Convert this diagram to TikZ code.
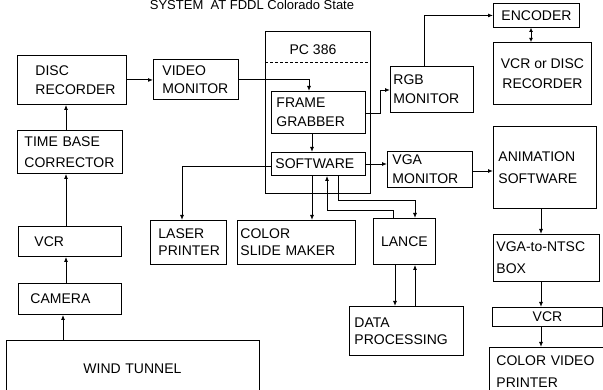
\documentclass[tikz,border=0pt]{standalone}
\usepackage{fontspec}
\setmainfont{Liberation Sans}
\usetikzlibrary{arrows.meta}
\begin{document}
\begin{tikzpicture}[x=1pt,y=-1pt,
  blk/.style={draw, line width=0.9pt, anchor=north west, align=left, inner ysep=0pt, font=\fontsize{14}{19}\selectfont},
  ctr/.style={blk, align=center},
  arr/.style={line width=0.9pt, -{Latex[length=5pt,width=4pt]}},
  ln/.style={line width=0.9pt}]
\useasboundingbox (0,0) rectangle (603,390);

% title
\node[font=\fontsize{13}{15}\selectfont, anchor=base] (title) at (252,10) {SYSTEM\ \ AT FDDL Colorado State};

% left column
\node[blk, minimum width=109, minimum height=49, text width=73, inner xsep=18] (disc) at (17,55) {DISC\\RECORDER};
\node[blk, minimum width=85, minimum height=40, text width=67, inner xsep=9, font=\fontsize{14}{18}\selectfont] (vmon) at (153,59) {VIDEO\\MONITOR};
\node[blk, minimum width=105, minimum height=43, text width=91, inner xsep=7, font=\fontsize{14}{21}\selectfont] (tbc) at (17,130) {TIME BASE\\CORRECTOR};
\node[blk, minimum width=103, minimum height=30, text width=71, inner xsep=16] (vcrL) at (18,226) {VCR};
\node[blk, minimum width=103, minimum height=31, text width=79, inner xsep=12] (cam) at (18,283) {CAMERA};
\node[blk, minimum width=253, minimum height=56, text width=99, inner xsep=77] (wind) at (6,340) {WIND TUNNEL};

% PC 386
\node[blk, minimum width=105, minimum height=162] (pc) at (265,31) {};
\node[font=\fontsize{14}{19}\selectfont] (pclabel) at (313,50) {PC 386};
\draw[ln, dash pattern=on 3pt off 2pt] (pc.west |- 0,62) -- (pc.east |- 0,62);
\node[blk, minimum width=94, minimum height=42, text width=84, inner xsep=5] (fg) at (271,91) {FRAME\\GRABBER};
\node[blk, minimum width=94, minimum height=23, text width=86, inner xsep=4] (sw) at (271,152) {SOFTWARE};

% right side
\node[blk, minimum width=83, minimum height=46, text width=77, inner xsep=3] (rgb) at (390,66) {RGB\\MONITOR};
\node[ctr, minimum width=86, minimum height=24] (enc) at (493,3) {ENCODER};
\node[ctr, minimum width=98, minimum height=62, font=\fontsize{14}{20}\selectfont] (vcrdisc) at (493,42) {VCR or DISC\\RECORDER};
\node[blk, minimum width=85, minimum height=36, text width=75, inner xsep=5] (vga) at (387,151) {VGA\\MONITOR};
\node[blk, minimum width=103, minimum height=82, text width=93, inner xsep=5, font=\fontsize{14}{22}\selectfont] (anim) at (493,126) {ANIMATION\\SOFTWARE};
\node[blk, minimum width=106, minimum height=47, text width=100, inner xsep=3, font=\fontsize{14}{22}\selectfont] (ntsc) at (493,234) {VGA-to-NTSC\\BOX};
\node[ctr, minimum width=110, minimum height=19] (vcrR) at (492,307) {VCR};
\node[blk, minimum width=120, minimum height=48, text width=106, inner xsep=7, font=\fontsize{14}{22}\selectfont] (cvp) at (489,347) {COLOR VIDEO\\PRINTER};

% bottom middle
\node[blk, minimum width=76, minimum height=44, text width=60, inner xsep=8, font=\fontsize{14}{17}\selectfont] (laser) at (150,220) {LASER\\PRINTER};
\node[blk, minimum width=118, minimum height=44, text width=112, inner xsep=3, font=\fontsize{14}{17}\selectfont] (csm) at (237,220) {COLOR\\SLIDE MAKER};
\node[ctr, minimum width=62, minimum height=46] (lance) at (373,218) {LANCE};
\node[blk, minimum width=114, minimum height=49, text width=104, inner xsep=5, font=\fontsize{14}{17}\selectfont] (data) at (349,306) {DATA\\PROCESSING};

% connectors
\draw[arr] (63,0 |- wind.north) -- (63,0 |- cam.south);
\draw[arr] (66,0 |- cam.north) -- (66,0 |- vcrL.south);
\draw[arr] (66,0 |- vcrL.north) -- (66,0 |- tbc.south);
\draw[arr] (66,0 |- tbc.north) -- (66,0 |- disc.south);
\draw[arr] (disc.east) -- (vmon.west |- disc.east);
\draw[arr] (vmon.east) -| (309,0 |- fg.north);
\draw[arr] (312,0 |- fg.south) -- (312,0 |- sw.north);
\draw[arr] (fg.east |- 0,113) -- (380,113) |- (rgb.west |- 0,90);
\draw[arr] (424,0 |- rgb.north) |- (enc.west);
\draw[ln, {Latex[length=4pt,width=4pt]}-{Latex[length=4pt,width=4pt]}] (531,0 |- enc.south) -- (531,0 |- vcrdisc.north);
\draw[arr] (sw.east |- 0,164) -- (vga.west |- 0,164);
\draw[arr] (vga.east |- 0,171) -- (anim.west |- 0,171);
\draw[arr] (541,0 |- anim.south) -- (541,0 |- ntsc.north);
\draw[arr] (541,0 |- ntsc.south) -- (541,0 |- vcrR.north);
\draw[arr] (541,0 |- vcrR.south) -- (541,0 |- cvp.north);
\draw[arr] (sw.west |- 0,166) -| (182,0 |- laser.north);
\draw[arr] (312,0 |- sw.south) -- (312,0 |- csm.north);
\draw[arr] (338,0 |- sw.south) |- (415,200) -- (415,0 |- lance.north);
\draw[arr] (393,0 |- lance.north) |- (327,210) -- (327,0 |- sw.south);
\draw[arr] (395,0 |- lance.south) -- (395,0 |- data.north);
\draw[arr] (415,0 |- data.north) -- (415,0 |- lance.south);
\end{tikzpicture}
\end{document}
